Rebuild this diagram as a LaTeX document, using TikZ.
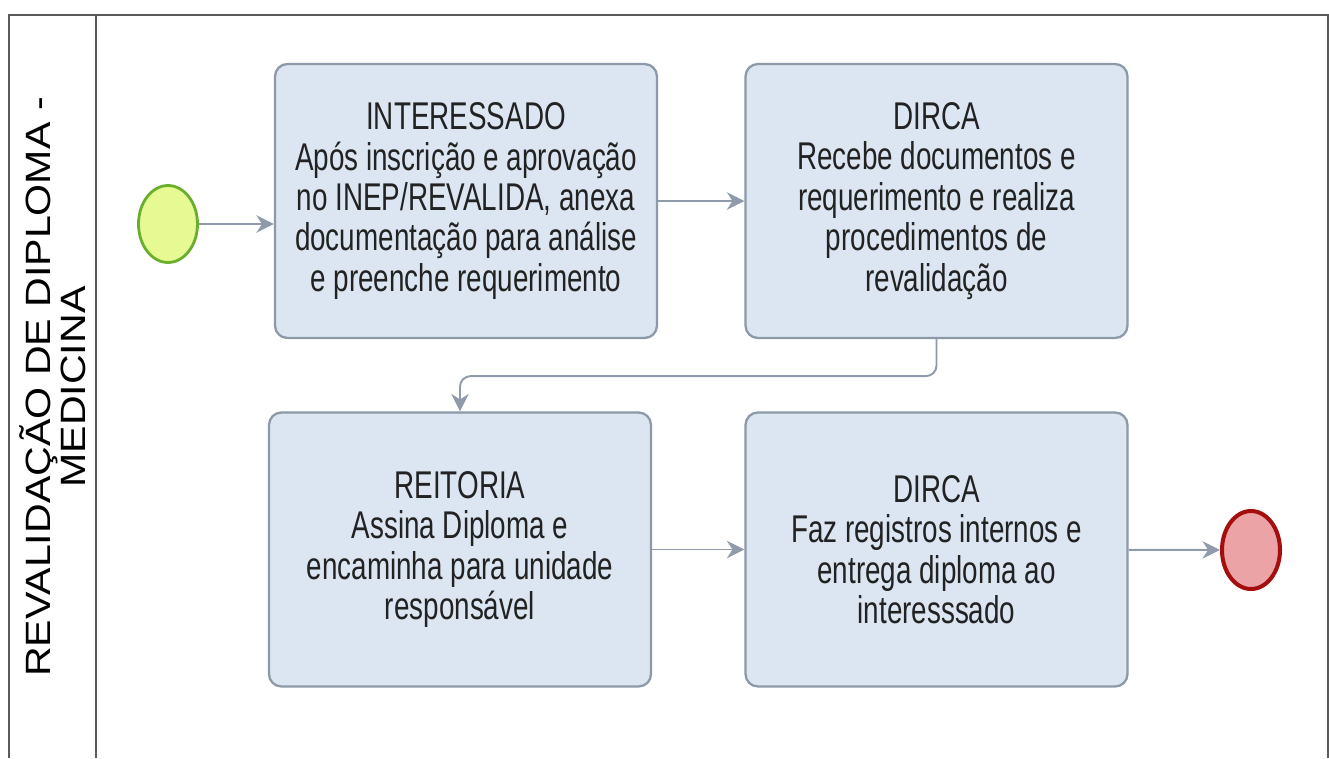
\documentclass[tikz,border=0pt]{standalone}
\usepackage{fontspec}
\setmainfont{Liberation Sans}
\newfontfamily\boxfont{Liberation Sans}[FakeStretch=0.72]
\newfontfamily\lanefont{Liberation Sans}[FakeStretch=1.17]
\usetikzlibrary{arrows.meta,shapes.geometric}

\definecolor{taskfill}{HTML}{DCE6F2}
\definecolor{taskline}{HTML}{8C99A8}
\definecolor{flowgray}{HTML}{8F9BAA}
\definecolor{startfill}{HTML}{E6F993}
\definecolor{startline}{HTML}{6BAE2E}
\definecolor{endfill}{HTML}{EBA3A6}
\definecolor{endline}{HTML}{A50E0E}
\definecolor{poolline}{HTML}{5A5A5A}
\definecolor{tasktext}{HTML}{222222}

\begin{document}
\begin{tikzpicture}[
    x=0.02cm, y=-0.02cm,
    task/.style={
        rectangle,
        rounded corners=7pt,
        minimum width=7.64cm,
        minimum height=5.48cm,
        draw=taskline,
        line width=1.3pt,
        fill=taskfill,
        text=tasktext,
        font=\boxfont\fontsize{22}{23}\selectfont,
        align=center
    },
    startev/.style={
        ellipse,
        minimum width=1.18cm,
        minimum height=1.54cm,
        draw=startline,
        line width=1.6pt,
        fill=startfill
    },
    endev/.style={
        ellipse,
        minimum width=1.16cm,
        minimum height=1.56cm,
        draw=endline,
        line width=2.3pt,
        fill=endfill
    },
    lane/.style={
        rotate=90,
        font=\lanefont\fontsize{20}{20}\selectfont,
        align=center
    },
    pool/.style={draw=poolline, line width=1.2pt},
    arrow/.style={-{Stealth[length=10pt,width=10pt]}, line width=1.1pt, flowgray}
]
\useasboundingbox (0,0) rectangle (1329,758);

% pool and lane
\draw[pool] (9,758) |- (1328,15) -- (1328,758);
\draw[pool] (96,15) -- (96,758);
\node[lane] (lanename) at (53,387) {REVALIDAÇÃO DE DIPLOMA -\\MEDICINA};

% events
\node[startev] (inicio) at (168,224) {};
\node[endev] (fim) at (1251,550) {};

% tasks
\node[task] (interessado) at (466,201) {INTERESSADO\\Após inscrição e aprovação\\no INEP/REVALIDA, anexa\\documentação para análise\\e preenche requerimento};
\node[task] (dirca1) at (936.5,201) {DIRCA\\Recebe documentos e\\requerimento e realiza\\procedimentos de\\revalidação};
\node[task] (reitoria) at (460,549.5) {REITORIA\\Assina Diploma e\\encaminha para unidade\\responsável};
\node[task] (dirca2) at (936.5,549.5) {DIRCA\\Faz registros internos e\\entrega diploma ao\\interesssado};

% flows
\draw[arrow] (inicio) -- (inicio -| interessado.west);
\draw[arrow] (interessado) -- (dirca1);
\draw[arrow, rounded corners=6pt] (dirca1.south) -- ++(0,37) -| (reitoria.north);
\draw[arrow] (reitoria) -- (dirca2);
\draw[arrow] (dirca2) -- (fim);

\end{tikzpicture}
\end{document}
